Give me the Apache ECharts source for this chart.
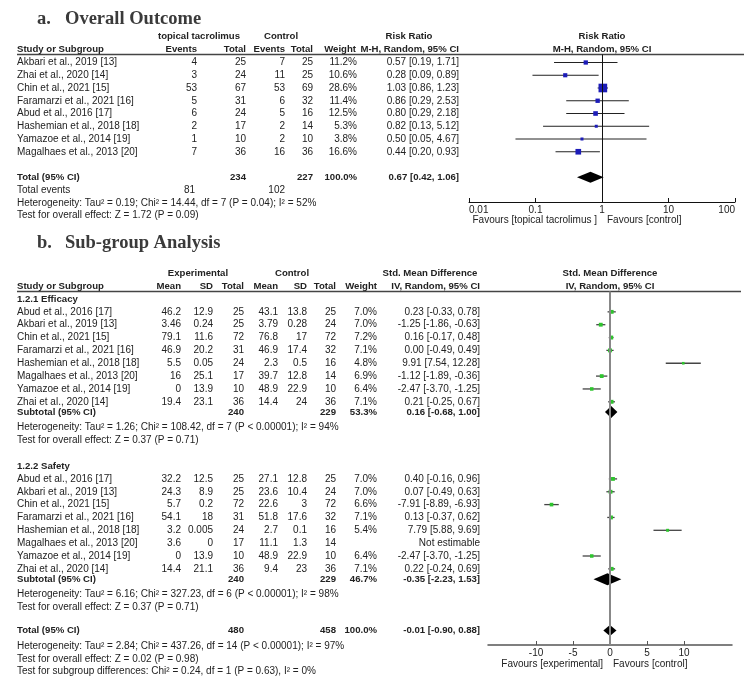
<!DOCTYPE html>
<html>
<head>
<meta charset="utf-8">
<script src="https://cdn.jsdelivr.net/npm/echarts@6/dist/echarts.min.js"></script>
<style>
  html, body { margin: 0; padding: 0; background: #fff; }
  #main { width: 750px; height: 684px; }
</style>
</head>
<body>
<div id="main"></div>
<script>
// ---- a. overall outcome (risk ratio) ----
const topStudies = ['Akbari et al., 2019 [13]', 'Zhai et al., 2020 [14]', 'Chin et al., 2021 [15]', 'Faramarzi et al., 2021 [16]',
  'Abud et al., 2016 [17]', 'Hashemian et al., 2018 [18]', 'Yamazoe et al., 2014 [19]', 'Magalhaes et al., 2013 [20]']
const topExpEvents = [4, 3, 53, 5, 6, 2, 1, 7]
const topExpTotal = [25, 24, 67, 31, 24, 17, 10, 36]
const topCtlEvents = [7, 11, 53, 6, 5, 2, 2, 16]
const topCtlTotal = [25, 25, 69, 32, 16, 14, 10, 36]
const topWeight = [11.2, 10.6, 28.6, 11.4, 12.5, 5.3, 3.8, 16.6]
const topRR = [0.57, 0.28, 1.03, 0.86, 0.80, 0.82, 0.50, 0.44]
const topLo = [0.19, 0.09, 0.86, 0.29, 0.29, 0.13, 0.05, 0.20]
const topHi = [1.71, 0.89, 1.23, 2.53, 2.18, 5.12, 4.67, 0.93]
const topTotal = { exp: 234, ctl: 227, events: [81, 102], est: 0.67, lo: 0.42, hi: 1.06 }
const topTicks = [0.01, 0.1, 1, 10, 100]

// ---- b. sub-group analysis (std. mean difference) ----
const subStudies = ['Abud et al., 2016 [17]', 'Akbari et al., 2019 [13]', 'Chin et al., 2021 [15]', 'Faramarzi et al., 2021 [16]',
  'Hashemian et al., 2018 [18]', 'Magalhaes et al., 2013 [20]', 'Yamazoe et al., 2014 [19]', 'Zhai et al., 2020 [14]']
const effMeanE = [46.2, 3.46, 79.1, 46.9, 5.5, 16, 0, 19.4]
const effSdE = [12.9, 0.24, 11.6, 20.2, 0.05, 25.1, 13.9, 23.1]
const effTotE = [25, 25, 72, 31, 24, 17, 10, 36]
const effMeanC = [43.1, 3.79, 76.8, 46.9, 2.3, 39.7, 48.9, 14.4]
const effSdC = [13.8, 0.28, 17, 17.4, 0.5, 12.8, 22.9, 24]
const effTotC = [25, 24, 72, 32, 16, 14, 10, 36]
const effWeight = [7.0, 7.0, 7.2, 7.1, 4.8, 6.9, 6.4, 7.1]
const effSmd = [0.23, -1.25, 0.16, 0.00, 9.91, -1.12, -2.47, 0.21]
const effLo = [-0.33, -1.86, -0.17, -0.49, 7.54, -1.89, -3.70, -0.25]
const effHi = [0.78, -0.63, 0.48, 0.49, 12.28, -0.36, -1.25, 0.67]

const safMeanE = [32.2, 24.3, 5.7, 54.1, 3.2, 3.6, 0, 14.4]
const safSdE = [12.5, 8.9, 0.2, 18, 0.005, 0, 13.9, 21.1]
const safTotE = [25, 25, 72, 31, 24, 17, 10, 36]
const safMeanC = [27.1, 23.6, 22.6, 51.8, 2.7, 11.1, 48.9, 9.4]
const safSdC = [12.8, 10.4, 3, 17.6, 0.1, 1.3, 22.9, 23]
const safTotC = [25, 24, 72, 32, 16, 14, 10, 36]
const safWeight = [7.0, 7.0, 6.6, 7.1, 5.4, null, 6.4, 7.1]
const safSmd = [0.40, 0.07, -7.91, 0.13, 7.79, null, -2.47, 0.22]
const safLo = [-0.16, -0.49, -8.89, -0.37, 5.88, null, -3.70, -0.24]
const safHi = [0.96, 0.63, -6.93, 0.62, 9.69, null, -1.25, 0.69]

const subtotals = [
  { exp: 240, ctl: 229, w: 53.3, est: 0.16, lo: -0.68, hi: 1.00,
    het: 'Heterogeneity: Tau² = 1.26; Chi² = 108.42, df = 7 (P < 0.00001); I² = 94%', z: 'Test for overall effect: Z = 0.37 (P = 0.71)' },
  { exp: 240, ctl: 229, w: 46.7, est: -0.35, lo: -2.23, hi: 1.53,
    het: 'Heterogeneity: Tau² = 6.16; Chi² = 327.23, df = 6 (P < 0.00001); I² = 98%', z: 'Test for overall effect: Z = 0.37 (P = 0.71)' }
]
const subTotal = { exp: 480, ctl: 458, w: 100.0, est: -0.01, lo: -0.90, hi: 0.88 }
const subTicks = [-10, -5, 0, 5, 10]

// ---- layout ----
const FONT = '"Liberation Sans", Arial, sans-serif'
const INK = '#222'
const TOP_ROW0 = 62.5, TOP_STEP = 12.75
const BOT_ROW0 = 299, BOT_STEP = 12.85
const topY = k => TOP_ROW0 + TOP_STEP * k
const botY = k => BOT_ROW0 + BOT_STEP * k

const g = []
function txt(x, y, s, align, bold, size, family, color) {
  g.push({
    type: 'text', x: x, y: y, silent: true,
    style: {
      text: String(s), fill: color || INK, textAlign: align || 'left', textVerticalAlign: 'middle',
      font: (bold ? 'bold ' : '') + (size || (bold ? 9.6 : 10)) + 'px ' + (family || FONT)
    }
  })
}
function hline(x1, x2, y) {
  g.push({ type: 'line', silent: true, shape: { x1: x1, y1: y, x2: x2, y2: y }, style: { stroke: '#444', lineWidth: 1.3 } })
}
const f2 = v => v.toFixed(2)
const ci = (e, l, h) => f2(e) + ' [' + f2(l) + ', ' + f2(h) + ']'
const pct = w => w.toFixed(1) + '%'

// panel a text
const SERIF = '"Liberation Serif", "Times New Roman", serif'
txt(37, 19, 'a.', 'left', true, 18.5, SERIF, '#3a3a3a')
txt(65, 19, 'Overall Outcome', 'left', true, 18.5, SERIF, '#3a3a3a')
txt(199, 36, 'topical tacrolimus', 'center', true)
txt(281, 36, 'Control', 'center', true)
txt(409, 36, 'Risk Ratio', 'center', true)
txt(602, 36, 'Risk Ratio', 'center', true)
txt(17, 49, 'Study or Subgroup', 'left', true)
txt(197, 49, 'Events', 'right', true)
txt(246, 49, 'Total', 'right', true)
txt(285, 49, 'Events', 'right', true)
txt(313, 49, 'Total', 'right', true)
txt(356, 49, 'Weight', 'right', true)
txt(459, 49, 'M-H, Random, 95% CI', 'right', true)
txt(602, 49, 'M-H, Random, 95% CI', 'center', true)
hline(17, 744, 54.5)
topStudies.forEach((s, i) => {
  const y = topY(i)
  txt(17, y, s)
  txt(197, y, topExpEvents[i], 'right')
  txt(246, y, topExpTotal[i], 'right')
  txt(285, y, topCtlEvents[i], 'right')
  txt(313, y, topCtlTotal[i], 'right')
  txt(357, y, pct(topWeight[i]), 'right')
  txt(459, y, ci(topRR[i], topLo[i], topHi[i]), 'right')
})
txt(17, topY(9), 'Total (95% CI)', 'left', true)
txt(246, topY(9), topTotal.exp, 'right', true)
txt(313, topY(9), topTotal.ctl, 'right', true)
txt(357, topY(9), '100.0%', 'right', true)
txt(459, topY(9), ci(topTotal.est, topTotal.lo, topTotal.hi), 'right', true)
txt(17, topY(10), 'Total events')
txt(195, topY(10), topTotal.events[0], 'right')
txt(285, topY(10), topTotal.events[1], 'right')
txt(17, topY(11), 'Heterogeneity: Tau² = 0.19; Chi² = 14.44, df = 7 (P = 0.04); I² = 52%')
txt(17, topY(12), 'Test for overall effect: Z = 1.72 (P = 0.09)')
txt(597, 220, 'Favours [topical tacrolimus ]', 'right')
txt(607, 220, 'Favours [control]', 'left')

// panel b text
txt(37, 243, 'b.', 'left', true, 18.5, SERIF, '#3a3a3a')
txt(65, 243, 'Sub-group Analysis', 'left', true, 18.5, SERIF, '#3a3a3a')
txt(198, 273, 'Experimental', 'center', true)
txt(292, 273, 'Control', 'center', true)
txt(430, 273, 'Std. Mean Difference', 'center', true)
txt(610, 273, 'Std. Mean Difference', 'center', true)
txt(17, 286, 'Study or Subgroup', 'left', true)
txt(181, 286, 'Mean', 'right', true)
txt(213, 286, 'SD', 'right', true)
txt(244, 286, 'Total', 'right', true)
txt(278, 286, 'Mean', 'right', true)
txt(307, 286, 'SD', 'right', true)
txt(336, 286, 'Total', 'right', true)
txt(377, 286, 'Weight', 'right', true)
txt(480, 286, 'IV, Random, 95% CI', 'right', true)
txt(610, 286, 'IV, Random, 95% CI', 'center', true)
hline(17, 741, 291.5)

const groups = [
  { title: '1.2.1 Efficacy', k0: 0, mE: effMeanE, sE: effSdE, tE: effTotE, mC: effMeanC, sC: effSdC, tC: effTotC, w: effWeight, e: effSmd, lo: effLo, hi: effHi },
  { title: '1.2.2 Safety', k0: 13, mE: safMeanE, sE: safSdE, tE: safTotE, mC: safMeanC, sC: safSdC, tC: safTotC, w: safWeight, e: safSmd, lo: safLo, hi: safHi }
]
const botMarks = [], botDiamonds = []
groups.forEach((gr, gi) => {
  txt(17, botY(gr.k0), gr.title, 'left', true)
  subStudies.forEach((s, i) => {
    const k = gr.k0 + 1 + i, y = botY(k)
    txt(17, y, s)
    txt(181, y, gr.mE[i], 'right')
    txt(213, y, gr.sE[i], 'right')
    txt(244, y, gr.tE[i], 'right')
    txt(278, y, gr.mC[i], 'right')
    txt(307, y, gr.sC[i], 'right')
    txt(336, y, gr.tC[i], 'right')
    if (gr.w[i] != null) txt(377, y, pct(gr.w[i]), 'right')
    if (gr.e[i] != null) {
      txt(480, y, ci(gr.e[i], gr.lo[i], gr.hi[i]), 'right')
      botMarks.push([gr.e[i], k, gr.lo[i], gr.hi[i], gr.w[i]])
    } else {
      txt(480, y, 'Not estimable', 'right')
    }
  })
  const st = subtotals[gi], ks = gr.k0 + 8.8
  txt(17, botY(ks), 'Subtotal (95% CI)', 'left', true)
  txt(244, botY(ks), st.exp, 'right', true)
  txt(336, botY(ks), st.ctl, 'right', true)
  txt(377, botY(ks), pct(st.w), 'right', true)
  txt(480, botY(ks), ci(st.est, st.lo, st.hi), 'right', true)
  botDiamonds.push([st.est, ks, st.lo, st.hi, 6])
  txt(17, botY(gr.k0 + 10), st.het)
  txt(17, botY(gr.k0 + 11), st.z)
})
txt(17, botY(25.8), 'Total (95% CI)', 'left', true)
txt(244, botY(25.8), subTotal.exp, 'right', true)
txt(336, botY(25.8), subTotal.ctl, 'right', true)
txt(377, botY(25.8), pct(subTotal.w), 'right', true)
txt(480, botY(25.8), ci(subTotal.est, subTotal.lo, subTotal.hi), 'right', true)
botDiamonds.push([subTotal.est, 25.8, subTotal.lo, subTotal.hi, 5.5])
txt(17, botY(27), 'Heterogeneity: Tau² = 2.84; Chi² = 437.26, df = 14 (P < 0.00001); I² = 97%')
txt(17, botY(28), 'Test for overall effect: Z = 0.02 (P = 0.98)')
txt(17, botY(29), 'Test for subgroup differences: Chi² = 0.24, df = 1 (P = 0.63), I² = 0%')
txt(603, 664, 'Favours [experimental]', 'right')
txt(613, 664, 'Favours [control]', 'left')

const topMarks = topStudies.map((s, i) => [topRR[i], i, topLo[i], topHi[i], topWeight[i]])
const topDiamonds = [[topTotal.est, 9, topTotal.lo, topTotal.hi, 5.5]]

function ciRenderer(color, lineColor, lineWidth, sizeOf) {
  return function (params, api) {
    const k = api.value(1)
    const a = api.coord([api.value(2), k])
    const b = api.coord([api.value(3), k])
    const c = api.coord([api.value(0), k])
    const s = sizeOf(api.value(4))
    return {
      type: 'group',
      children: [
        { type: 'line', shape: { x1: a[0], y1: a[1], x2: b[0], y2: b[1] }, style: { stroke: lineColor, lineWidth: lineWidth } },
        { type: 'rect', shape: { x: c[0] - s / 2, y: c[1] - s / 2, width: s, height: s }, style: { fill: color } }
      ]
    }
  }
}
function diamondRenderer(params, api) {
  const k = api.value(1)
  const a = api.coord([api.value(2), k])
  const b = api.coord([api.value(3), k])
  const c = api.coord([api.value(0), k])
  const h = api.value(4)
  return {
    type: 'polygon',
    shape: { points: [[a[0], c[1]], [c[0], c[1] - h], [b[0], c[1]], [c[0], c[1] + h]] },
    style: { fill: '#000' }
  }
}

const TOP_GRID = { left: 469, width: 266, top: 54.5, bottom: 202 }
const BOT_GRID = { left: 488, width: 244, top: 291.5, bottom: 645 }

const chart = echarts.init(document.getElementById('main'), null, { renderer: 'canvas' })
const axisText = { fontFamily: FONT, fontSize: 10, color: INK }
chart.setOption({
  animation: false,
  backgroundColor: '#fff',
  grid: [
    { left: TOP_GRID.left, width: TOP_GRID.width, top: TOP_GRID.top, height: TOP_GRID.bottom - TOP_GRID.top, containLabel: false, outerBoundsMode: 'none' },
    { left: BOT_GRID.left, width: BOT_GRID.width, top: BOT_GRID.top, height: BOT_GRID.bottom - BOT_GRID.top, containLabel: false, outerBoundsMode: 'none' }
  ],
  xAxis: [
    {
      type: 'log', logBase: 10, min: 0.01, max: 100, gridIndex: 0, position: 'bottom',
      axisLine: { onZero: false, lineStyle: { color: '#111', width: 1 } },
      axisTick: { inside: true, length: 4, lineStyle: { color: '#111' }, customValues: topTicks },
      axisLabel: Object.assign({ margin: 3, customValues: topTicks, alignMinLabel: 'left', alignMaxLabel: 'right', formatter: v => String(v) }, axisText),
      splitLine: { show: false }
    },
    {
      type: 'value', min: -16.5, max: 16.5, gridIndex: 1, position: 'bottom',
      axisLine: { onZero: false, lineStyle: { color: '#555', width: 1.5 } },
      axisTick: { inside: true, length: 4, lineStyle: { color: '#555' }, customValues: subTicks },
      axisLabel: Object.assign({ margin: 3, customValues: subTicks }, axisText),
      splitLine: { show: false }
    }
  ],
  yAxis: [
    { type: 'value', gridIndex: 0, inverse: true, show: false,
      min: (TOP_GRID.top - TOP_ROW0) / TOP_STEP, max: (TOP_GRID.bottom - TOP_ROW0) / TOP_STEP },
    { type: 'value', gridIndex: 1, inverse: true, show: false,
      min: (BOT_GRID.top - BOT_ROW0) / BOT_STEP, max: (BOT_GRID.bottom - BOT_ROW0) / BOT_STEP }
  ],
  series: [
    {
      type: 'custom', xAxisIndex: 0, yAxisIndex: 0, silent: true,
      renderItem: ciRenderer('#1c1cb8', '#222', 1, w => Math.max(3, 0.25 * w + 1.5)),
      data: topMarks,
      markLine: { silent: true, symbol: 'none', label: { show: false },
        lineStyle: { color: '#111', width: 1, type: 'solid' }, data: [{ xAxis: 1 }] }
    },
    { type: 'custom', xAxisIndex: 0, yAxisIndex: 0, silent: true, renderItem: diamondRenderer, data: topDiamonds },
    {
      type: 'custom', xAxisIndex: 1, yAxisIndex: 1, silent: true,
      renderItem: ciRenderer('#2ec42e', '#444', 1.3, w => 0.55 * w),
      data: botMarks,
      markLine: { silent: true, symbol: 'none', label: { show: false },
        lineStyle: { color: '#888', width: 2, type: 'solid' }, data: [{ xAxis: 0 }] }
    },
    { type: 'custom', xAxisIndex: 1, yAxisIndex: 1, silent: true, renderItem: diamondRenderer, data: botDiamonds }
  ],
  graphic: g
})
</script>
</body>
</html>
